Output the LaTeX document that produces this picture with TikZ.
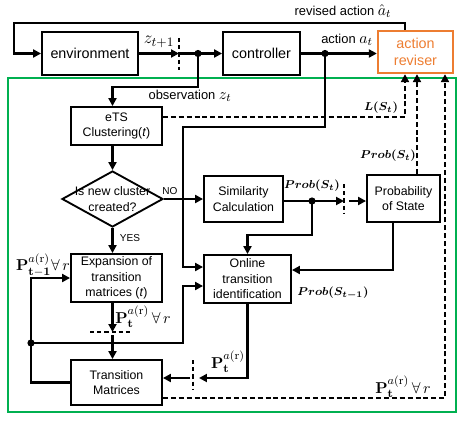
\documentclass[tikz,border=0pt]{standalone}
\usepackage{amsmath,bm}
\usepackage[no-math]{fontspec}
\setmainfont{Liberation Sans}
\usetikzlibrary{arrows.meta,shapes.geometric}
\definecolor{revorange}{RGB}{237,125,49}
\definecolor{boxgreen}{RGB}{0,176,80}
\DeclareMathSizes{8}{8}{6.5}{5}
\DeclareMathSizes{9}{10.5}{8}{6}
\DeclareMathSizes{10}{11}{8.5}{6.5}
\DeclareMathSizes{11}{12}{9.5}{7}
\def\px{0.02449cm}
\tikzset{
  topblk/.style={draw, line width=1.3pt, align=center, font=\fontsize{10}{12}\selectfont},
  blk/.style={draw, line width=1.3pt, align=center, inner sep=1pt, font=\fontsize{8.6}{10.8}\selectfont},
  flow/.style={line width=2pt},
  sig/.style={line width=1.6pt, dash pattern=on 3.5pt off 2pt},
  cut/.style={line width=1.1pt, dash pattern=on 3pt off 2pt},
  lbl/.style={font=\fontsize{9}{11}\selectfont, inner sep=1pt},
  zlbl/.style={font=\fontsize{11}{13}\selectfont, inner sep=1pt},
  mlbl/.style={font=\fontsize{10}{12}\selectfont, inner sep=1pt},
  plbl/.style={font=\fontsize{8}{10}\selectfont, inner sep=1pt},
  tiny/.style={font=\fontsize{7}{8}\selectfont, inner sep=1pt},
}
\begin{document}
\begin{tikzpicture}[x=\px, y=-\px, line join=miter, >={Triangle[length=5.5pt,width=5.5pt]}]
\useasboundingbox (0,0) rectangle (466,423);
% green frame round the learning part
\draw[boxgreen, line width=1.6pt] (8,78) rectangle (456,412);
% blocks
\node[topblk, minimum width=96*\px, minimum height=43*\px] (env) at (90,53.5) {environment};
\node[topblk, minimum width=77*\px, minimum height=43*\px] (ctrl) at (261.5,53.5) {controller};
\node[topblk, draw=revorange, text=revorange, line width=1.6pt, minimum width=75*\px, minimum height=42*\px] (rev) at (415.5,52) {action\\reviser};
\node[blk, minimum width=91*\px, minimum height=38*\px] (ets) at (116.5,126) {eTS\\Clustering(\textit{t})};
\node[draw, diamond, line width=1.3pt, minimum width=101*\px, minimum height=56*\px, inner sep=0pt] (dia) at (112.5,199) {};
\node[blk, draw=none] (diat) at (dia) {Is new cluster\\created?};
\node[blk, minimum width=79*\px, minimum height=46*\px] (sim) at (243.5,199) {Similarity\\Calculation};
\node[blk, minimum width=73*\px, minimum height=47*\px] (pos) at (403.5,198.5) {Probability\\of State};
\node[blk, minimum width=87*\px, minimum height=48*\px] (onl) at (247.5,279) {Online\\transition\\identification};
\node[blk, minimum width=91*\px, minimum height=48*\px] (exp) at (116.5,278) {Expansion of\\transition\\matrices (\textit{t})};
\node[blk, minimum width=91*\px, minimum height=45*\px] (tm) at (116.5,382.5) {Transition\\Matrices};
% corners and junctions
\coordinate (fb) at (14,23);
\coordinate (zcut) at (179,53.5);
\coordinate (zdot) at (198,53.5);
\coordinate (obs) at (112.5,87);
\coordinate (adot) at (325,53.5);
\coordinate (a1) at (183,127);
\coordinate (a2) at (183,267);
\coordinate (lst) at (405,117);
\coordinate (pdot) at (312,201);
\coordinate (pcut) at (344,201);
\coordinate (pcut2) at (349,201);
\coordinate (p1) at (0,235);
\coordinate (p2) at (393,270);
\coordinate (p3) at (417,0);
\coordinate (p4) at (445,398);
\coordinate (tcut) at (112.5,332);
\coordinate (tcut2) at (112.5,335);
\coordinate (ldot) at (31,343);
\coordinate (l1) at (31,278);
\coordinate (l2) at (183,343);
\coordinate (l3) at (183,286);
\coordinate (o2) at (199,378);
\coordinate (o3) at (190,378);
% top loop
\draw[flow,->] (rev.north -| lst) |- (fb) |- (env.west);
\draw[flow,->] (env.east) -- (zcut);
\draw[cut] (179,38) -- (179,70);
\draw[flow,->] (zcut) -- (ctrl.west);
\fill (zdot) circle (2.5pt);
\draw[flow,->] (zdot) |- (obs) -- (ets.north -| obs);
\draw[flow,->] (ctrl.east) -- (ctrl.east -| rev.west);
\fill (adot) circle (2.5pt);
\draw[flow,->] (adot) |- (a1) -- (a2) -- (a2 -| onl.west);
% clustering and state probability
\draw[flow,->] (ets.south -| dia) -- (dia.north);
\draw[sig,->] (lst -| ets.east) -- (lst) -- (lst |- rev.south);
\draw[flow,->] (dia.east) -- (sim.west);
\draw[flow,->] (sim.east |- pcut) -- (pcut);
\draw[cut] (344,184) -- (344,213);
\draw[flow,->] (pcut2) -- (pcut2 -| pos.west);
\fill (pdot) circle (2.5pt);
\draw[flow,->] (pdot) -- (pdot |- p1) -| (onl.north);
\draw[flow,->] (p2 |- pos.south) -- (p2) -- (p2 -| onl.east);
\draw[sig,->] (p3 |- pos.north) -- (p3 |- rev.south);
\draw[sig,->] (p4 -| tm.east) -- (p4) -- (p4 |- rev.south);
% transition matrices
\draw[flow,->] (dia.south) -- (exp.north -| dia);
\draw[flow,->] (exp.south -| dia) -- (tcut);
\draw[cut] (90,332) -- (133,332);
\draw[flow,->] (tcut2) -- (tm.north -| dia);
\draw[flow,->] (tm.west) -| (l1) -- (exp.west);
\fill (ldot) circle (2.5pt);
\draw[flow,->] (ldot) -- (l2) -- (l3) -- (l3 -| onl.west);
\draw[flow,->] (onl.south) |- (o2);
\draw[cut] (193,360) -- (193,389);
\draw[flow,->] (o3) -- (o3 -| tm.east);
% labels
\node[lbl] (revlbl) at (343,11) {revised action $\hat{a}_t$};
\node[zlbl] (zlabel) at (159,42) {$z_{t+1}$};
\node[lbl] (obslbl) at (190,96) {observation $z_t$};
\node[lbl] (alabel) at (347,40) {action $a_t$};
\node[plbl] (llbl) at (381,108) {$\bm{L(S_t)}$};
\node[tiny] (nolbl) at (170,191) {NO};
\node[tiny] (yeslbl) at (130,238) {YES};
\node[plbl] (ps1) at (312,186) {$\bm{Prob(S_t)}$};
\node[plbl] (ps2) at (388,156) {$\bm{Prob(S_t)}$};
\node[plbl] (ps3) at (333,293) {$\bm{Prob(S_{t-1})}$};
\node[mlbl] (pt1) at (43,265) {$\mathbf{P}_{\mathbf{t-1}}^{a(\mathrm{r})}\forall\, r$};
\node[mlbl] (pt2) at (143,317) {$\mathbf{P}_{\mathbf{t}}^{a(\mathrm{r})}\,\forall\, r$};
\node[mlbl] (pt3) at (228,362) {$\mathbf{P}_{\mathbf{t}}^{a(\mathrm{r})}$};
\node[mlbl] (pt4) at (403,387) {$\mathbf{P}_{\mathbf{t}}^{a(\mathrm{r})}\,\forall\, r$};
\end{tikzpicture}
\end{document}
